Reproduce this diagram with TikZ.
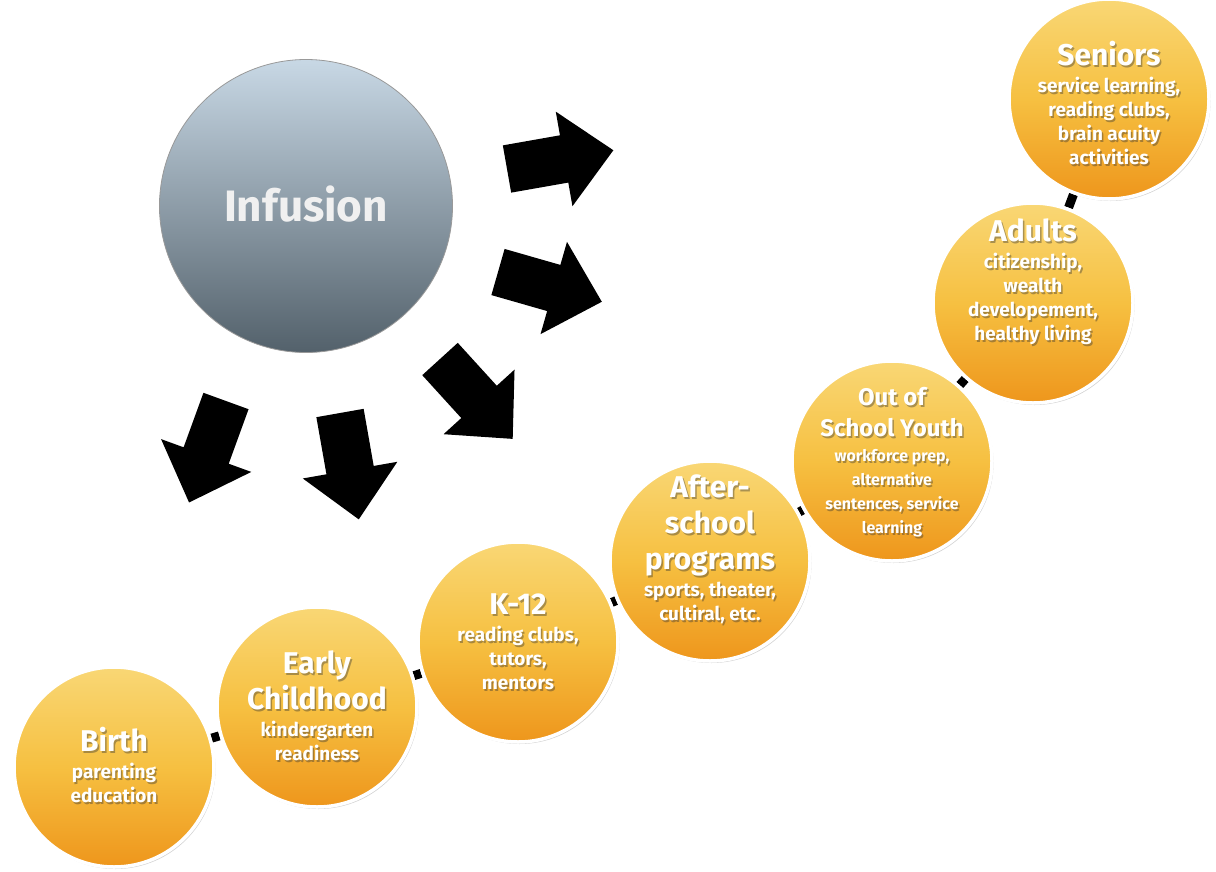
\documentclass[tikz,border=0pt]{standalone}
\usepackage{fontspec}
\setmainfont{Fira Sans}
\usetikzlibrary{shadows}
\pgfdeclarelayer{bg}
\pgfsetlayers{bg,main}
\definecolor{orTop}{HTML}{F9D775}
\definecolor{orMid}{HTML}{F6C041}
\definecolor{orBot}{HTML}{EE961C}
\definecolor{inTop}{HTML}{C8D8E5}
\definecolor{inBot}{HTML}{53616B}
% title and subtitle lines with fixed struts (baselineskip 0 -> spacing = depth + height + 1pt)
\newcommand\T[1]{{\fontsize{30}{0}\selectfont\rule[-9pt]{0pt}{35pt}#1}}
\newcommand\Ts[1]{{\fontsize{24}{0}\selectfont\rule[-7pt]{0pt}{30pt}#1}}
\newcommand\Sb[1]{{\fontsize{19}{0}\selectfont\rule[-6pt]{0pt}{23pt}#1}}
\newcommand\Ss[1]{{\fontsize{16}{0}\selectfont\rule[-6pt]{0pt}{23pt}#1}}
\tikzset{
  x=1pt, y=-1pt,
  stage/.style={circle, inner sep=0pt, minimum size=200pt, draw=white, line width=3.5pt,
    top color=orTop, bottom color=orBot, middle color=orMid,
    drop shadow={shadow xshift=1.5pt, shadow yshift=-2pt, opacity=.35}},
  stagetext/.style={text=white, align=center, font=\bfseries\fontsize{19}{0}\selectfont, inner sep=0pt},
  stageshade/.style={stagetext, text=black!80, opacity=.4},
  hub/.style={circle, inner sep=0pt, minimum size=293pt, draw=gray!80, line width=0.8pt,
    top color=inTop, bottom color=inBot},
  link/.style={line width=9pt, black},
  blockarrow/.style={fill=black},
}
\newcommand\stage[4]{%
  \node[stage] (#1) at (#2) {};
  \node[stageshade, xshift=1.5pt, yshift=#3-1.5pt] (#1s) at (#1) {#4};
  \node[stagetext, yshift=#3] (#1t) at (#1) {#4};
}
\newcommand\barrow[3]{%
  \coordinate (#1) at (#2);
  \fill[blockarrow, shift={(#1)}, rotate=#3]
    (0,-24) -- (58,-24) -- (58,-48) -- (108,0) -- (58,48) -- (58,24) -- (0,24) -- cycle;
}
\begin{document}
\begin{tikzpicture}
\useasboundingbox (0,0) rectangle (1216,871);
\begin{pgfonlayer}{bg}
  \fill[white] (0,0) rectangle (1216,871);
\end{pgfonlayer}

% hub
\node[hub] (infusion) at (306,206) {};
\node[text=white!94!black, font=\bfseries\fontsize{44}{48}\selectfont, inner sep=0pt] (infusiont) at (306,204) {Infusion};

% arrows
\barrow{a1}{507,169}{10}
\barrow{a2}{498,272}{-16}
\barrow{a3}{440,359}{-47.7}
\barrow{a4}{340,413}{-80}
\barrow{a5}{226,401}{-110}

% stages
\stage{birth}{114,767}{0pt}{\T{Birth}\\\Sb{parenting}\\\Sb{education}}
\stage{early}{317,707}{0pt}{\T{Early}\\\T{Childhood}\\\Sb{kindergarten}\\\Sb{readiness}}
\stage{k12}{518,642}{0pt}{\T{K-12}\\\Sb{reading clubs,}\\\Sb{tutors,}\\\Sb{mentors}}
\stage{after}{710,561}{12pt}{\T{After-}\\\T{school}\\\T{programs}\\\Sb{sports, theater,}\\\Sb{cultiral, etc.}}
\stage{oosy}{892,461}{0pt}{\Ts{Out of}\\\Ts{School Youth}\\\Ss{workforce prep,}\\\Ss{alternative}\\\Ss{sentences, service}\\\Ss{learning}}
\stage{adults}{1033,303}{22pt}{\T{Adults}\\\Sb{citizenship,}\\\Sb{wealth}\\\Sb{developement,}\\\Sb{healthy living}}
\stage{seniors}{1109,99}{-6pt}{\T{Seniors}\\\Sb{service learning,}\\\Sb{reading clubs,}\\\Sb{brain acuity}\\\Sb{activities}}

\begin{pgfonlayer}{bg}
  \draw[link] (birth) -- (early);
  \draw[link] (early) -- (k12);
  \draw[link] (k12) -- (after);
  \draw[link] (after) -- (oosy);
  \draw[link] (oosy) -- (adults);
  \draw[link] (adults) -- (seniors);
\end{pgfonlayer}
\end{tikzpicture}
\end{document}
